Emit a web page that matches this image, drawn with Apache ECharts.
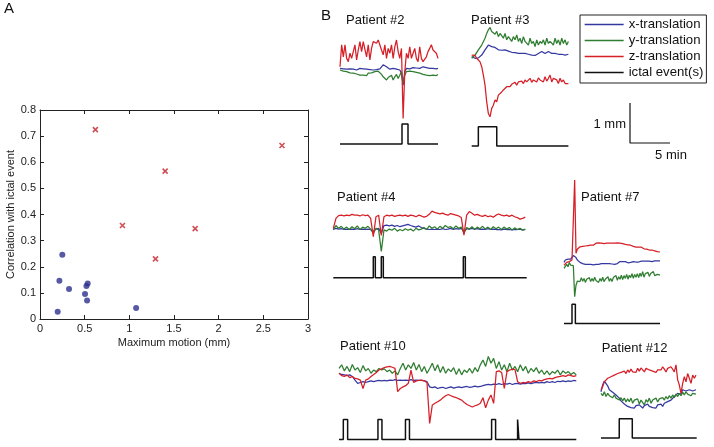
<!DOCTYPE html>
<html><head><meta charset="utf-8">
<script src="https://cdn.jsdelivr.net/npm/echarts@6/dist/echarts.min.js"></script>
<style>html,body{margin:0;padding:0;background:#fff}#c{width:714px;height:447px}</style>
</head><body><div id="c"></div>
<script>
// ---------- Panel A data ----------
const nonSeizMotion = [0.25, 0.217, 0.325, 0.198, 0.504, 0.52, 0.534, 0.527, 1.076];
const nonSeizCorr   = [0.246, 0.146, 0.115, 0.028, 0.096, 0.126, 0.136, 0.071, 0.042];
const seizMotion = [0.62, 0.923, 1.293, 1.401, 1.737, 2.709];
const seizCorr   = [0.725, 0.358, 0.23, 0.566, 0.346, 0.664];
const xTicksA = { min: 0, max: 3, step: 0.5 };
const yTicksA = { min: 0, max: 0.8, step: 0.1 };

// ---------- Panel B data (translations in mm, ictal intervals in min) ----------
const p2_x = [0.04,0,0.03,0.04,0.02,0.04,0.03,0.06,0.02,0.04,0,0.03,0.04,0.01,0.03,0,0.02,-0.01,0.01,-0.03,0,-0.02,0.01,-0.01,0.03,0.06,0.13,0.14,0.08,0.04,0.02,0,0.04,-0.01,0.02,0.04,0,-0.08,-0.38,-0.04,0.04,0.06,0.03,0.04,0.06,0.03,0.05,0.07,0.04,0.06,0.08,0.04,0.06,0.03,0.04,0.02,0.04,0.06,0.03,0.04];
const p2_y = [0,-0.04,-0.03,-0.06,-0.04,-0.08,-0.07,-0.11,-0.08,-0.13,-0.1,-0.14,-0.13,-0.17,-0.13,-0.11,-0.14,-0.08,-0.13,-0.07,-0.11,-0.04,-0.08,-0.03,-0.06,-0.11,-0.17,-0.21,-0.25,-0.19,-0.23,-0.13,-0.25,-0.17,-0.11,-0.21,-0.13,-0.04,-0.33,-0.13,-0.04,-0.08,-0.03,-0.08,-0.04,0,-0.06,-0.03,-0.08,-0.04,-0.11,-0.06,-0.13,-0.08,-0.14,-0.1,-0.13,-0.08,-0.14,-0.11];
const p2_z = [0.08,0.63,0.33,0.63,0.29,0.21,0.42,0.29,0.46,0.63,0.25,0.50,0.71,0.46,0.71,0.75,0.33,0.63,0.25,0.54,0.71,0.73,0.67,0.75,0.71,0.50,0.38,0.63,0.29,0.54,0.42,0.63,0.29,0.58,0.75,0.46,0.29,0.54,-1.21,-0.04,0.42,0.29,0.58,0.29,0.42,0.54,0.29,0.21,0.58,0.29,0.21,0.25,0.33,0.46,0.54,0.63,0.50,0.46,0.42,0.29];
const p2_minutes = 12.25;
const p2_ictal = [[7.75, 8.5]];

const p3_x = [0,-0.03,-0.04,-0.06,-0.03,0,0.04,0.08,0.17,0.21,0.29,0.28,0.25,0.21,0.23,0.19,0.17,0.18,0.16,0.14,0.17,0.13,0.14,0.13,0.11,0.13,0.1,0.13,0.08,0.11,0.08,0.1,0.08,0.09,0.06,0.08,0.04,0.06,0.03,0.06,0.08,0.11,0.13,0.1,0.08,0.11,0.13,0.1,0.08,0.11,0.08,0.09,0.06,0.08,0.06,0.08,0.04,0.07,0.06];
const p3_y = [-0.04,0,0.04,0.08,0.17,0.21,0.29,0.33,0.46,0.58,0.67,0.73,0.63,0.67,0.56,0.63,0.5,0.58,0.54,0.46,0.58,0.42,0.5,0.54,0.38,0.5,0.42,0.54,0.38,0.46,0.33,0.5,0.38,0.42,0.29,0.46,0.33,0.38,0.25,0.42,0.29,0.38,0.33,0.42,0.29,0.46,0.33,0.38,0.42,0.29,0.46,0.33,0.42,0.29,0.46,0.33,0.42,0.29,0.38];
const p3_z = [0.04,0,0.03,-0.04,-0.08,-0.13,-0.25,-0.46,-0.71,-1.13,-1.42,-1.5,-1.29,-1.21,-1.08,-1.13,-0.96,-0.92,-0.88,-0.83,-0.79,-0.75,-0.71,-0.75,-0.69,-0.67,-0.64,-0.71,-0.63,-0.64,-0.61,-0.67,-0.58,-0.63,-0.61,-0.54,-0.64,-0.58,-0.54,-0.63,-0.53,-0.58,-0.54,-0.63,-0.5,-0.61,-0.54,-0.46,-0.63,-0.54,-0.5,-0.58,-0.67,-0.54,-0.63,-0.58,-0.67,-0.63,-0.67];
const p3_minutes = 12.08;
const p3_ictal = [[0.83, 3.13]];

const p4_x = [-0.02,0,-0.02,-0.01,-0.03,-0.02,-0.03,-0.02,-0.03,-0.01,-0.03,-0.02,-0.03,-0.02,-0.03,-0.08,-0.02,0,-0.13,0.07,0.08,0.06,0.08,0.05,0.07,0.04,0.06,0.08,0.1,0.07,0.05,0.03,0.06,0.02,0,-0.02,-0.03,-0.02,-0.03,-0.02,-0.03,-0.01,-0.03,-0.02,0,-0.03,-0.01,-0.02,0,-0.08,-0.01,-0.02,0,-0.02,-0.01,-0.03,-0.02,-0.03,-0.01,-0.03,-0.02,-0.03,-0.03,-0.04,-0.02,-0.03,-0.03,-0.04,-0.03,-0.03,-0.02,-0.04,-0.03];
const p4_y = [-0.04,0.07,0,0.05,-0.02,0.03,-0.03,0.04,-0.01,0.06,-0.03,0.03,0,0.05,-0.02,-0.13,0,-0.04,-0.58,-0.04,-0.07,-0.02,-0.05,0,-0.07,-0.03,-0.06,-0.01,-0.05,-0.02,-0.07,0,-0.04,-0.02,0.02,-0.03,0.06,0,0.04,-0.02,0.05,0,0.07,0.02,0.04,-0.01,0.06,0,0.03,-0.13,0.02,-0.02,0.04,-0.03,0.03,-0.01,0.05,-0.02,0.03,-0.03,0.04,-0.01,0.03,-0.03,0.03,-0.02,0.02,-0.04,0.01,-0.03,0,-0.05,-0.02];
const p4_z = [0,0.25,0.32,0.33,0.31,0.33,0.32,0.35,0.33,0.33,0.31,0.34,0.32,0.33,0.25,-0.21,0.29,0.33,-0.18,0.29,0.33,0.31,0.33,0.3,0.32,0.33,0.31,0.33,0.3,0.33,0.32,0.29,0.33,0.31,0.28,0.3,0.35,0.43,0.4,0.38,0.36,0.38,0.35,0.33,0.37,0.35,0.33,0.31,0.27,-0.17,0.33,0.42,0.38,0.33,0.35,0.32,0.3,0.33,0.29,0.31,0.28,0.33,0.36,0.33,0.31,0.33,0.3,0.33,0.29,0.27,0.23,0.25,0.28];
const p4_minutes = 24.17;
const p4_ictal = [[5.0, 5.25], [6.0, 6.25], [16.25, 16.5]];

const p7_x = [0,0.06,0.1,0.08,0.1,0.08,0.12,0.17,0.18,0.12,0.06,0.03,0,-0.02,-0.03,-0.03,-0.05,-0.04,-0.05,-0.03,-0.05,-0.04,-0.06,-0.04,-0.05,-0.03,-0.05,-0.04,-0.03,-0.05,-0.03,-0.04,-0.03,-0.02,-0.03,-0.03,-0.04,-0.03,-0.05,-0.03,-0.03,0,0.02,0.01,0.02,0,0.02,0.01,-0.01,0.02,0,0.01,0.02,0,0.01,0.03,0.01,0.02,0.03,0.01,0.03,0.02,0.03,0.04,0.03,0.03,0.02,0.03,0.04,0.03,0.04,0.03,0.04];
const p7_y = [-0.15,-0.19,-0.05,-0.11,0,-0.07,-0.03,-0.08,-0.86,-0.57,-0.47,-0.42,-0.48,-0.38,-0.47,-0.4,-0.5,-0.42,-0.45,-0.38,-0.48,-0.4,-0.47,-0.37,-0.45,-0.42,-0.5,-0.4,-0.47,-0.37,-0.48,-0.42,-0.45,-0.36,-0.47,-0.4,-0.48,-0.38,-0.43,-0.33,-0.45,-0.36,-0.42,-0.32,-0.43,-0.33,-0.4,-0.3,-0.42,-0.32,-0.38,-0.28,-0.4,-0.3,-0.37,-0.28,-0.38,-0.27,-0.35,-0.23,-0.37,-0.28,-0.33,-0.25,-0.35,-0.28,-0.32,-0.23,-0.33,-0.28,-0.3,-0.25,-0.32];
const p7_z = [-0.07,-0.03,0,0.03,0.02,0.05,0.06,0.1,2.06,0.23,0.33,0.37,0.39,0.42,0.4,0.43,0.41,0.43,0.42,0.44,0.43,0.45,0.43,0.47,0.48,0.46,0.49,0.48,0.48,0.48,0.47,0.49,0.48,0.5,0.48,0.49,0.48,0.5,0.48,0.48,0.49,0.47,0.48,0.46,0.47,0.44,0.45,0.43,0.44,0.42,0.43,0.41,0.4,0.41,0.38,0.39,0.38,0.37,0.38,0.35,0.34,0.33,0.33,0.33,0.31,0.3,0.31,0.28,0.29,0.28,0.27,0.28,0.26];
const p7_minutes = 12.0;
const p7_ictal = [[1.0, 1.42]];

const p10_x = [0.21,0.18,0.17,0.15,0.17,0.13,0.04,-0.04,-0.02,0,-0.02,0,0.02,0,0.02,0.03,0.02,0.03,0.02,0.04,0.03,0.05,0.03,0.04,0.03,0.04,0.03,0.05,0.03,0.04,0.03,0.03,0.02,0,-0.13,-0.15,-0.13,-0.17,-0.15,-0.14,-0.17,-0.15,-0.13,-0.16,-0.14,-0.13,-0.15,-0.13,-0.12,-0.14,-0.13,-0.11,-0.13,-0.12,-0.1,-0.08,-0.07,-0.08,-0.06,-0.07,-0.05,-0.07,-0.05,-0.06,-0.04,-0.07,-0.05,-0.04,-0.06,-0.04,-0.05,-0.03,-0.05,-0.03,-0.02,-0.03,-0.02,-0.03,0,-0.02,0,-0.02,0.01,0,0.02,0,0.02,0.01,0.03,0.02];
const p10_y = [0.33,0.42,0.27,0.38,0.25,0.43,0.29,0.35,0.23,0.4,0.27,0.33,0.21,0.29,0.25,0.33,0.29,0.32,0.25,0.29,0.21,0.27,0.17,0.33,0.46,0.29,0.42,0.33,0.48,0.29,0.43,0.25,0.38,0.21,0.33,0.46,0.27,0.42,0.23,0.38,0.21,0.32,0.25,0.35,0.18,0.32,0.17,0.29,0.23,0.33,0.21,0.35,0.25,0.42,0.54,0.38,0.63,0.46,0.58,0.33,0.5,0.29,0.42,0.25,0.46,0.29,0.38,0.25,0.42,0.27,0.38,0.21,0.33,0.25,0.35,0.21,0.29,0.18,0.27,0.17,0.25,0.21,0.29,0.17,0.27,0.21,0.25,0.18,0.23,0.17];
const p10_z = [0.21,0.15,0.13,0.17,0.1,0.13,0.08,0.07,0.04,-0.17,0.04,0.07,0.13,0.18,0.23,0.29,0.32,0.35,0.37,0.38,0.36,0.33,-0.25,-0.17,-0.13,-0.1,-0.04,0.29,-0.02,0.02,0.03,0.04,0.02,-0.02,-1.04,-0.58,-0.54,-0.5,-0.46,-0.4,-0.35,-0.32,-0.35,-0.38,-0.4,-0.43,-0.46,-0.52,-0.57,-0.6,-0.63,-0.6,-0.58,-0.54,-0.4,-0.65,-0.46,-0.33,-0.54,0.25,0.27,0.23,-0.17,0.25,0.29,0.31,0.3,0,-0.04,-0.02,-0.03,0,-0.02,0.02,0,0.03,0.02,0.05,0.07,0.08,0.07,0.1,0.12,0.13,0.15,0.13,0.17,0.15,0.13,0.15];
const p10_minutes = 29.67;
const p10_ictal = [[0.54, 1.08], [4.87, 5.37], [8.31, 8.81], [19.08, 19.58], [22.33, 22.5]];

const p12_x = [0.08,0.25,0.35,0.33,0.23,0.13,0.17,0.07,0.1,0,-0.04,-0.08,-0.15,-0.18,-0.23,-0.25,-0.29,-0.27,-0.32,-0.29,-0.33,-0.27,-0.32,-0.25,-0.3,-0.33,-0.27,-0.32,-0.23,-0.29,-0.25,-0.32,-0.27,-0.33,-0.25,-0.29,-0.23,-0.29,-0.21,-0.25,-0.17,-0.18,-0.13,-0.08,-0.04,0,0.04,0.08,0.02,0.13,0.17,0.1,0.15,0.13,0.17,0.1,0.15,0.13];
const p12_y = [0.04,-0.02,0.08,-0.04,0.04,-0.02,0.02,-0.07,0,-0.08,-0.04,-0.13,-0.07,-0.15,-0.08,-0.18,-0.1,-0.17,-0.08,-0.21,-0.13,-0.18,-0.1,-0.23,-0.13,-0.17,-0.25,-0.12,-0.18,-0.08,-0.21,-0.13,-0.17,-0.08,-0.18,-0.1,-0.15,-0.07,-0.13,-0.04,-0.1,-0.02,-0.08,0,-0.07,0.02,-0.04,0.04,-0.02,0.07,0,0.08,0.02,0.07,-0.02,0.04,0,0.02];
const p12_z = [0.13,0.21,0.33,0.38,0.42,0.38,0.46,0.42,0.5,0.46,0.54,0.5,0.57,0.52,0.6,0.54,0.63,0.57,0.65,0.58,0.63,0.57,0.67,0.6,0.68,0.63,0.58,0.67,0.71,0.63,0.67,0.6,0.65,0.57,0.63,0.68,0.63,0.71,0.65,0.58,0.67,0.63,0.71,0.67,0.58,0.76,0.38,0.25,0.04,0.29,0.46,0.33,0.54,0.42,0.29,0.5,0.42,0.5];
const p12_minutes = 11.96;
const p12_ictal = [[2.28, 3.91]];

const scaleBarMm = 1;
const scaleBarMin = 5;
const legendNames = ['x-translation', 'y-translation', 'z-translation', 'ictal event(s)'];

// ---------- styling / layout ----------
const FONT = "'Liberation Sans', Arial, Helvetica, sans-serif";
const C_X = '#3438a0', C_Y = '#2f7d30', C_Z = '#d61f27', C_I = '#111';
const panels = [
  { title: 'Patient #2', tx: 346, ty: 20, x: p2_x, y: p2_y, z: p2_z, dur: p2_minutes, ev: p2_ictal, ymin: -1.25, ymax: 0.85,
    g: { left: 340, top: 36, width: 98, height: 84 }, ig: { left: 340, top: 124, width: 98, height: 20 } },
  { title: 'Patient #3', tx: 471, ty: 20, x: p3_x, y: p3_y, z: p3_z, dur: p3_minutes, ev: p3_ictal, ymin: -1.58, ymax: 0.79,
    g: { left: 471.7, top: 25, width: 96.7, height: 95 }, ig: { left: 471.7, top: 126.7, width: 96.7, height: 19.3 } },
  { title: 'Patient #4', tx: 337, ty: 197, x: p4_x, y: p4_y, z: p4_z, dur: p4_minutes, ev: p4_ictal, ymin: -0.62, ymax: 0.51,
    g: { left: 333.3, top: 208, width: 192, height: 45 }, ig: { left: 333.3, top: 256.7, width: 193.4, height: 21 } },
  { title: 'Patient #7', tx: 581, ty: 197.5, x: p7_x, y: p7_y, z: p7_z, dur: p7_minutes, ev: p7_ictal, ymin: -0.94, ymax: 2.11,
    g: { left: 564, top: 178, width: 96, height: 122 }, ig: { left: 564, top: 304.3, width: 96, height: 19.3 } },
  { title: 'Patient #10', tx: 340, ty: 346.5, x: p10_x, y: p10_y, z: p10_z, dur: p10_minutes, ev: p10_ictal, ymin: -1.08, ymax: 0.69,
    g: { left: 339, top: 354, width: 237.3, height: 71 }, ig: { left: 339, top: 419.5, width: 237.3, height: 20 } },
  { title: 'Patient #12', tx: 601.7, ty: 348.3, x: p12_x, y: p12_y, z: p12_z, dur: p12_minutes, ev: p12_ictal, ymin: -0.38, ymax: 0.78,
    g: { left: 601, top: 364, width: 95, height: 46 }, ig: { left: 601, top: 418.7, width: 95.7, height: 19.3 } }
];

const grids = [], xAxes = [], yAxes = [], series = [];
const axisTxt = { color: '#222', fontSize: 11, fontFamily: FONT };
const lineBlack = { lineStyle: { color: '#222', width: 1 } };

// Panel A
grids.push({ left: 40, top: 110, width: 268, height: 209 });
const baseX = { gridIndex: 0, type: 'value', min: xTicksA.min, max: xTicksA.max, interval: xTicksA.step,
  axisLine: Object.assign({ onZero: false }, lineBlack), axisTick: { inside: true, length: 4, lineStyle: { color: '#222' } }, splitLine: { show: false } };
const baseY = { gridIndex: 0, type: 'value', min: yTicksA.min, max: yTicksA.max, interval: yTicksA.step,
  axisLine: Object.assign({ onZero: false }, lineBlack), axisTick: { inside: true, length: 4, lineStyle: { color: '#222' } }, splitLine: { show: false } };
xAxes.push(Object.assign({}, baseX, { position: 'bottom', axisLabel: Object.assign({ margin: 4 }, axisTxt),
  name: 'Maximum motion (mm)', nameLocation: 'middle', nameGap: 18, nameTextStyle: axisTxt }));
xAxes.push(Object.assign({}, baseX, { position: 'top', axisLabel: { show: false } }));
yAxes.push(Object.assign({}, baseY, { position: 'left', axisLabel: Object.assign({ margin: 4 }, axisTxt),
  name: 'Correlation with ictal event', nameLocation: 'middle', nameGap: 24, nameTextStyle: axisTxt }));
yAxes.push(Object.assign({}, baseY, { position: 'right', axisLabel: { show: false } }));
series.push({ type: 'scatter', xAxisIndex: 0, yAxisIndex: 0, symbol: 'circle', symbolSize: 6,
  itemStyle: { color: '#2d2f8e' }, data: nonSeizMotion.map((v, i) => [v, nonSeizCorr[i]]) });
series.push({ type: 'scatter', xAxisIndex: 0, yAxisIndex: 0, symbol: 'path://M0,0L10,10M10,0L0,10', symbolSize: 5,
  itemStyle: { color: 'rgba(0,0,0,0)', borderColor: '#c4232b', borderWidth: 1.6 }, data: seizMotion.map((v, i) => [v, seizCorr[i]]) });

function stepData(dur, ev) {
  const d = [[0, 0]];
  ev.forEach(([a, b]) => { d.push([a, 0], [a, 1], [b, 1], [b, 0]); });
  d.push([dur, 0]);
  return d;
}
function lineSeries(name, color, width, xi, yi, data) {
  return { type: 'line', name, xAxisIndex: xi, yAxisIndex: yi, data, symbol: 'none', showSymbol: false,
    lineStyle: { color, width }, itemStyle: { color }, silent: true, clip: false };
}

panels.forEach(p => {
  let gi = grids.length; grids.push(p.g);
  let xi = xAxes.length, yi = yAxes.length;
  xAxes.push({ gridIndex: gi, type: 'category', boundaryGap: false, show: false, data: p.x.map((_, i) => i) });
  yAxes.push({ gridIndex: gi, type: 'value', min: p.ymin, max: p.ymax, show: false });
  series.push(lineSeries(legendNames[0], C_X, 1.25, xi, yi, p.x));
  series.push(lineSeries(legendNames[1], C_Y, 1.25, xi, yi, p.y));
  series.push(lineSeries(legendNames[2], C_Z, 1.25, xi, yi, p.z));
  gi = grids.length; grids.push(p.ig);
  xi = xAxes.length; yi = yAxes.length;
  xAxes.push({ gridIndex: gi, type: 'value', min: 0, max: p.dur, show: false });
  yAxes.push({ gridIndex: gi, type: 'value', min: 0, max: 1, show: false });
  series.push(lineSeries(legendNames[3], C_I, 1.5, xi, yi, stepData(p.dur, p.ev)));
});

// scale bar
{
  const gi = grids.length; grids.push({ left: 630, top: 103, width: 40, height: 40 });
  const xi = xAxes.length, yi = yAxes.length;
  xAxes.push({ gridIndex: gi, type: 'value', min: 0, max: scaleBarMin, show: false });
  yAxes.push({ gridIndex: gi, type: 'value', min: 0, max: scaleBarMm, show: false });
  series.push({ type: 'line', xAxisIndex: xi, yAxisIndex: yi, symbol: 'none', silent: true, clip: false,
    lineStyle: { color: '#111', width: 1.2 }, data: [[0, scaleBarMm], [0, 0], [scaleBarMin, 0]] });
}

const txt = (t, x, y, size, align) => ({ type: 'text', x, y, silent: true,
  style: { text: t, fontSize: size, fontFamily: FONT, fill: '#111', align: align || 'left', verticalAlign: 'middle' } });
const graphic = [
  txt('A', 4, 9, 15), txt('B', 321, 16, 15),
  txt(scaleBarMm + ' mm', 626, 124, 13, 'right'),
  txt(scaleBarMin + ' min', 671, 155, 13, 'center')
];
panels.forEach(p => graphic.push(txt(p.title, p.tx, p.ty, 13)));

const chart = echarts.init(document.getElementById('c'));
chart.setOption({
  animation: false,
  grid: grids, xAxis: xAxes, yAxis: yAxes, series,
  legend: { data: legendNames, orient: 'vertical', left: 580, top: 15, itemWidth: 39, itemHeight: 14, itemGap: 3,
    padding: [3, 3, 4, 4], borderColor: '#222', borderWidth: 1, selectedMode: false,
    itemStyle: { color: 'rgba(0,0,0,0)', borderColor: 'rgba(0,0,0,0)', borderWidth: 0 },
    lineStyle: { width: 1.3 },
    textStyle: { fontSize: 13.2, fontFamily: FONT, color: '#111' } },
  graphic
});
</script></body></html>
